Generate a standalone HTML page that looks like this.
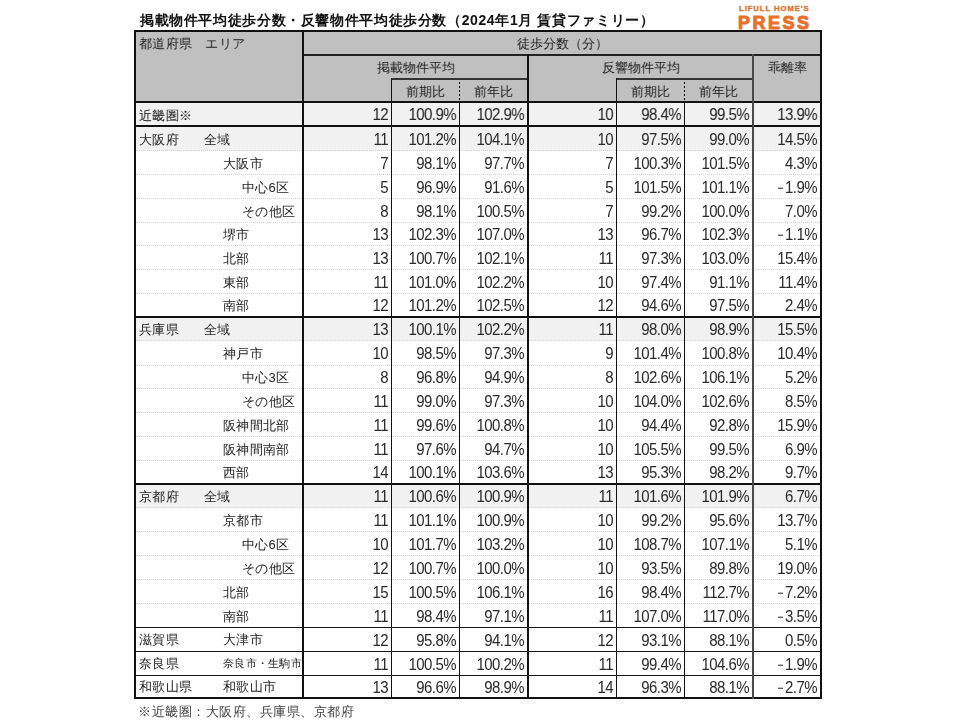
<!DOCTYPE html>
<html><head><meta charset="utf-8"><style>
html,body{margin:0;padding:0;background:#fff;width:960px;height:720px;overflow:hidden;position:relative}
body{font-family:"Liberation Sans",sans-serif;color:#1a1a1a}
.a{position:absolute}
.ln{position:absolute;background:#111}
.dot{position:absolute;height:0;border-top:1px dotted #d4d4d4}
.t{position:absolute;white-space:nowrap;font-size:13px;letter-spacing:0.3px;line-height:24px;color:#222}
.n{position:absolute;white-space:nowrap;font-size:15px;line-height:24px;text-align:right;letter-spacing:-0.55px;color:#2a2a2a;transform:translateY(0.7px) scaleY(1.04)}
.h{position:absolute;white-space:nowrap;font-size:13px;line-height:22px;text-align:center;color:#262626}
</style></head><body>

<div class="a" style="left:140px;top:10px;font-size:14px;letter-spacing:0.62px;font-weight:bold;line-height:20px;white-space:nowrap;color:#111;filter:grayscale(1)">掲載物件平均徒歩分数・反響物件平均徒歩分数（2024年1月 賃貸ファミリー）</div>
<div class="a" style="left:739px;top:4px;font-size:7.75px;font-weight:bold;letter-spacing:0.9px;color:#e8702a;line-height:10px;white-space:nowrap;-webkit-text-stroke:0.35px #e8702a">LIFULL HOME'S</div>
<div class="a" style="left:738px;top:13px;font-size:18px;font-weight:bold;letter-spacing:2.5px;color:#e8702a;line-height:20px;white-space:nowrap;-webkit-text-stroke:1px #e8702a">PRESS</div>
<div class="a" style="left:0;top:0;width:960px;height:720px;filter:grayscale(1)">
<div class="a" style="left:134px;top:30px;width:688px;height:73px;background:#c0c0c0"></div>
<div class="a" style="left:134px;top:103px;width:688px;height:23px;background:#f1f1f1"></div>
<div class="a" style="left:134px;top:127px;width:688px;height:24px;background:#f1f1f1"></div>
<div class="a" style="left:134px;top:318px;width:688px;height:23px;background:#f1f1f1"></div>
<div class="a" style="left:134px;top:485px;width:688px;height:23px;background:#f1f1f1"></div>
<div class="dot" style="left:136px;top:150px;width:684px"></div>
<div class="dot" style="left:136px;top:174px;width:684px"></div>
<div class="dot" style="left:136px;top:198px;width:684px"></div>
<div class="dot" style="left:136px;top:222px;width:684px"></div>
<div class="dot" style="left:136px;top:245px;width:684px"></div>
<div class="dot" style="left:136px;top:269px;width:684px"></div>
<div class="dot" style="left:136px;top:293px;width:684px"></div>
<div class="dot" style="left:136px;top:340px;width:684px"></div>
<div class="dot" style="left:136px;top:365px;width:684px"></div>
<div class="dot" style="left:136px;top:388px;width:684px"></div>
<div class="dot" style="left:136px;top:412px;width:684px"></div>
<div class="dot" style="left:136px;top:436px;width:684px"></div>
<div class="dot" style="left:136px;top:460px;width:684px"></div>
<div class="dot" style="left:136px;top:507px;width:684px"></div>
<div class="dot" style="left:136px;top:531px;width:684px"></div>
<div class="dot" style="left:136px;top:555px;width:684px"></div>
<div class="dot" style="left:136px;top:579px;width:684px"></div>
<div class="dot" style="left:136px;top:603px;width:684px"></div>
<div class="ln" style="left:134px;top:101px;width:688px;height:2px"></div>
<div class="ln" style="left:134px;top:125px;width:688px;height:2px"></div>
<div class="ln" style="left:134px;top:316px;width:688px;height:2px"></div>
<div class="ln" style="left:134px;top:483px;width:688px;height:2px"></div>
<div class="ln" style="left:134px;top:627px;width:688px;height:1px"></div>
<div class="ln" style="left:134px;top:651px;width:688px;height:1px"></div>
<div class="ln" style="left:134px;top:675px;width:688px;height:1px"></div>
<div class="ln" style="left:134px;top:697px;width:688px;height:2px"></div>
<div class="ln" style="left:134px;top:30px;width:688px;height:2px"></div>
<div class="ln" style="left:304px;top:54px;width:518px;height:2px;background:#222"></div>
<div class="ln" style="left:391px;top:78px;width:136px;height:2px;background:#333"></div>
<div class="ln" style="left:616px;top:78px;width:136px;height:2px;background:#333"></div>
<div class="ln" style="left:134px;top:30px;width:2px;height:669px"></div>
<div class="ln" style="left:302px;top:30px;width:2px;height:669px"></div>
<div class="ln" style="left:391px;top:101px;width:1px;height:598px"></div>
<div class="ln" style="left:459px;top:101px;width:1px;height:598px"></div>
<div class="ln" style="left:527px;top:54px;width:2px;height:645px"></div>
<div class="ln" style="left:616px;top:101px;width:1px;height:598px"></div>
<div class="ln" style="left:684px;top:101px;width:1px;height:598px"></div>
<div class="ln" style="left:752px;top:54px;width:2px;height:645px;background:#4a4a4a"></div>
<div class="ln" style="left:820px;top:30px;width:2px;height:669px"></div>
<div class="ln" style="left:391px;top:78px;width:1px;height:24px"></div>
<div class="ln" style="left:616px;top:78px;width:1px;height:24px"></div>
<div class="a" style="left:459px;top:82px;width:1px;height:18px;background:repeating-linear-gradient(#000 0 2px,transparent 2px 4px)"></div>
<div class="a" style="left:684px;top:82px;width:1px;height:18px;background:repeating-linear-gradient(#000 0 2px,transparent 2px 4px)"></div>
<div class="t" style="left:139px;top:33px;line-height:22px;color:#262626">都道府県　エリア</div>
<div class="h" style="left:304px;top:33px;width:516px;line-height:22px;">徒歩分数（分）</div>
<div class="h" style="left:304px;top:57px;width:223px;line-height:22px;">掲載物件平均</div>
<div class="h" style="left:529px;top:57px;width:223px;line-height:22px;">反響物件平均</div>
<div class="h" style="left:754px;top:57px;width:66px;line-height:22px;">乖離率</div>
<div class="h" style="left:392px;top:81px;width:67px;line-height:22px;">前期比</div>
<div class="h" style="left:460px;top:81px;width:67px;line-height:22px;">前年比</div>
<div class="h" style="left:617px;top:81px;width:67px;line-height:22px;">前期比</div>
<div class="h" style="left:685px;top:81px;width:67px;line-height:22px;">前年比</div>
<div class="t" style="left:139px;top:105px;line-height:22px;">近畿圏※</div>
<div class="n" style="left:308px;width:80px;top:103px;line-height:22px">12</div>
<div class="n" style="left:376px;width:80px;top:103px;line-height:22px">100.9%</div>
<div class="n" style="left:444px;width:80px;top:103px;line-height:22px">102.9%</div>
<div class="n" style="left:533px;width:80px;top:103px;line-height:22px">10</div>
<div class="n" style="left:601px;width:80px;top:103px;line-height:22px">98.4%</div>
<div class="n" style="left:669px;width:80px;top:103px;line-height:22px">99.5%</div>
<div class="n" style="left:737px;width:80px;top:103px;line-height:22px">13.9%</div>
<div class="t" style="left:139px;top:128px;line-height:23px;">大阪府</div>
<div class="t" style="left:204px;top:128px;line-height:23px;">全域</div>
<div class="n" style="left:308px;width:80px;top:127px;line-height:23px">11</div>
<div class="n" style="left:376px;width:80px;top:127px;line-height:23px">101.2%</div>
<div class="n" style="left:444px;width:80px;top:127px;line-height:23px">104.1%</div>
<div class="n" style="left:533px;width:80px;top:127px;line-height:23px">10</div>
<div class="n" style="left:601px;width:80px;top:127px;line-height:23px">97.5%</div>
<div class="n" style="left:669px;width:80px;top:127px;line-height:23px">99.0%</div>
<div class="n" style="left:737px;width:80px;top:127px;line-height:23px">14.5%</div>
<div class="t" style="left:223px;top:152px;line-height:23px;">大阪市</div>
<div class="n" style="left:308px;width:80px;top:151px;line-height:23px">7</div>
<div class="n" style="left:376px;width:80px;top:151px;line-height:23px">98.1%</div>
<div class="n" style="left:444px;width:80px;top:151px;line-height:23px">97.7%</div>
<div class="n" style="left:533px;width:80px;top:151px;line-height:23px">7</div>
<div class="n" style="left:601px;width:80px;top:151px;line-height:23px">100.3%</div>
<div class="n" style="left:669px;width:80px;top:151px;line-height:23px">101.5%</div>
<div class="n" style="left:737px;width:80px;top:151px;line-height:23px">4.3%</div>
<div class="t" style="left:242px;top:176px;line-height:23px;">中心6区</div>
<div class="n" style="left:308px;width:80px;top:175px;line-height:23px">5</div>
<div class="n" style="left:376px;width:80px;top:175px;line-height:23px">96.9%</div>
<div class="n" style="left:444px;width:80px;top:175px;line-height:23px">91.6%</div>
<div class="n" style="left:533px;width:80px;top:175px;line-height:23px">5</div>
<div class="n" style="left:601px;width:80px;top:175px;line-height:23px">101.5%</div>
<div class="n" style="left:669px;width:80px;top:175px;line-height:23px">101.1%</div>
<div class="n" style="left:737px;width:80px;top:175px;line-height:23px"><span style="display:inline-block;width:5px;height:1.4px;background:#2a2a2a;vertical-align:4px;margin-right:2.2px"></span>1.9%</div>
<div class="t" style="left:242px;top:200px;line-height:23px;">その他区</div>
<div class="n" style="left:308px;width:80px;top:199px;line-height:23px">8</div>
<div class="n" style="left:376px;width:80px;top:199px;line-height:23px">98.1%</div>
<div class="n" style="left:444px;width:80px;top:199px;line-height:23px">100.5%</div>
<div class="n" style="left:533px;width:80px;top:199px;line-height:23px">7</div>
<div class="n" style="left:601px;width:80px;top:199px;line-height:23px">99.2%</div>
<div class="n" style="left:669px;width:80px;top:199px;line-height:23px">100.0%</div>
<div class="n" style="left:737px;width:80px;top:199px;line-height:23px">7.0%</div>
<div class="t" style="left:223px;top:224px;line-height:22px;">堺市</div>
<div class="n" style="left:308px;width:80px;top:223px;line-height:22px">13</div>
<div class="n" style="left:376px;width:80px;top:223px;line-height:22px">102.3%</div>
<div class="n" style="left:444px;width:80px;top:223px;line-height:22px">107.0%</div>
<div class="n" style="left:533px;width:80px;top:223px;line-height:22px">13</div>
<div class="n" style="left:601px;width:80px;top:223px;line-height:22px">96.7%</div>
<div class="n" style="left:669px;width:80px;top:223px;line-height:22px">102.3%</div>
<div class="n" style="left:737px;width:80px;top:223px;line-height:22px"><span style="display:inline-block;width:5px;height:1.4px;background:#2a2a2a;vertical-align:4px;margin-right:2.2px"></span>1.1%</div>
<div class="t" style="left:223px;top:247px;line-height:23px;">北部</div>
<div class="n" style="left:308px;width:80px;top:246px;line-height:23px">13</div>
<div class="n" style="left:376px;width:80px;top:246px;line-height:23px">100.7%</div>
<div class="n" style="left:444px;width:80px;top:246px;line-height:23px">102.1%</div>
<div class="n" style="left:533px;width:80px;top:246px;line-height:23px">11</div>
<div class="n" style="left:601px;width:80px;top:246px;line-height:23px">97.3%</div>
<div class="n" style="left:669px;width:80px;top:246px;line-height:23px">103.0%</div>
<div class="n" style="left:737px;width:80px;top:246px;line-height:23px">15.4%</div>
<div class="t" style="left:223px;top:271px;line-height:23px;">東部</div>
<div class="n" style="left:308px;width:80px;top:270px;line-height:23px">11</div>
<div class="n" style="left:376px;width:80px;top:270px;line-height:23px">101.0%</div>
<div class="n" style="left:444px;width:80px;top:270px;line-height:23px">102.2%</div>
<div class="n" style="left:533px;width:80px;top:270px;line-height:23px">10</div>
<div class="n" style="left:601px;width:80px;top:270px;line-height:23px">97.4%</div>
<div class="n" style="left:669px;width:80px;top:270px;line-height:23px">91.1%</div>
<div class="n" style="left:737px;width:80px;top:270px;line-height:23px">11.4%</div>
<div class="t" style="left:223px;top:295px;line-height:22px;">南部</div>
<div class="n" style="left:308px;width:80px;top:294px;line-height:22px">12</div>
<div class="n" style="left:376px;width:80px;top:294px;line-height:22px">101.2%</div>
<div class="n" style="left:444px;width:80px;top:294px;line-height:22px">102.5%</div>
<div class="n" style="left:533px;width:80px;top:294px;line-height:22px">12</div>
<div class="n" style="left:601px;width:80px;top:294px;line-height:22px">94.6%</div>
<div class="n" style="left:669px;width:80px;top:294px;line-height:22px">97.5%</div>
<div class="n" style="left:737px;width:80px;top:294px;line-height:22px">2.4%</div>
<div class="t" style="left:139px;top:319px;line-height:22px;">兵庫県</div>
<div class="t" style="left:204px;top:319px;line-height:22px;">全域</div>
<div class="n" style="left:308px;width:80px;top:318px;line-height:22px">13</div>
<div class="n" style="left:376px;width:80px;top:318px;line-height:22px">100.1%</div>
<div class="n" style="left:444px;width:80px;top:318px;line-height:22px">102.2%</div>
<div class="n" style="left:533px;width:80px;top:318px;line-height:22px">11</div>
<div class="n" style="left:601px;width:80px;top:318px;line-height:22px">98.0%</div>
<div class="n" style="left:669px;width:80px;top:318px;line-height:22px">98.9%</div>
<div class="n" style="left:737px;width:80px;top:318px;line-height:22px">15.5%</div>
<div class="t" style="left:223px;top:342px;line-height:24px;">神戸市</div>
<div class="n" style="left:308px;width:80px;top:341px;line-height:24px">10</div>
<div class="n" style="left:376px;width:80px;top:341px;line-height:24px">98.5%</div>
<div class="n" style="left:444px;width:80px;top:341px;line-height:24px">97.3%</div>
<div class="n" style="left:533px;width:80px;top:341px;line-height:24px">9</div>
<div class="n" style="left:601px;width:80px;top:341px;line-height:24px">101.4%</div>
<div class="n" style="left:669px;width:80px;top:341px;line-height:24px">100.8%</div>
<div class="n" style="left:737px;width:80px;top:341px;line-height:24px">10.4%</div>
<div class="t" style="left:242px;top:367px;line-height:22px;">中心3区</div>
<div class="n" style="left:308px;width:80px;top:366px;line-height:22px">8</div>
<div class="n" style="left:376px;width:80px;top:366px;line-height:22px">96.8%</div>
<div class="n" style="left:444px;width:80px;top:366px;line-height:22px">94.9%</div>
<div class="n" style="left:533px;width:80px;top:366px;line-height:22px">8</div>
<div class="n" style="left:601px;width:80px;top:366px;line-height:22px">102.6%</div>
<div class="n" style="left:669px;width:80px;top:366px;line-height:22px">106.1%</div>
<div class="n" style="left:737px;width:80px;top:366px;line-height:22px">5.2%</div>
<div class="t" style="left:242px;top:390px;line-height:23px;">その他区</div>
<div class="n" style="left:308px;width:80px;top:389px;line-height:23px">11</div>
<div class="n" style="left:376px;width:80px;top:389px;line-height:23px">99.0%</div>
<div class="n" style="left:444px;width:80px;top:389px;line-height:23px">97.3%</div>
<div class="n" style="left:533px;width:80px;top:389px;line-height:23px">10</div>
<div class="n" style="left:601px;width:80px;top:389px;line-height:23px">104.0%</div>
<div class="n" style="left:669px;width:80px;top:389px;line-height:23px">102.6%</div>
<div class="n" style="left:737px;width:80px;top:389px;line-height:23px">8.5%</div>
<div class="t" style="left:223px;top:414px;line-height:23px;">阪神間北部</div>
<div class="n" style="left:308px;width:80px;top:413px;line-height:23px">11</div>
<div class="n" style="left:376px;width:80px;top:413px;line-height:23px">99.6%</div>
<div class="n" style="left:444px;width:80px;top:413px;line-height:23px">100.8%</div>
<div class="n" style="left:533px;width:80px;top:413px;line-height:23px">10</div>
<div class="n" style="left:601px;width:80px;top:413px;line-height:23px">94.4%</div>
<div class="n" style="left:669px;width:80px;top:413px;line-height:23px">92.8%</div>
<div class="n" style="left:737px;width:80px;top:413px;line-height:23px">15.9%</div>
<div class="t" style="left:223px;top:438px;line-height:23px;">阪神間南部</div>
<div class="n" style="left:308px;width:80px;top:437px;line-height:23px">11</div>
<div class="n" style="left:376px;width:80px;top:437px;line-height:23px">97.6%</div>
<div class="n" style="left:444px;width:80px;top:437px;line-height:23px">94.7%</div>
<div class="n" style="left:533px;width:80px;top:437px;line-height:23px">10</div>
<div class="n" style="left:601px;width:80px;top:437px;line-height:23px">105.5%</div>
<div class="n" style="left:669px;width:80px;top:437px;line-height:23px">99.5%</div>
<div class="n" style="left:737px;width:80px;top:437px;line-height:23px">6.9%</div>
<div class="t" style="left:223px;top:462px;line-height:22px;">西部</div>
<div class="n" style="left:308px;width:80px;top:461px;line-height:22px">14</div>
<div class="n" style="left:376px;width:80px;top:461px;line-height:22px">100.1%</div>
<div class="n" style="left:444px;width:80px;top:461px;line-height:22px">103.6%</div>
<div class="n" style="left:533px;width:80px;top:461px;line-height:22px">13</div>
<div class="n" style="left:601px;width:80px;top:461px;line-height:22px">95.3%</div>
<div class="n" style="left:669px;width:80px;top:461px;line-height:22px">98.2%</div>
<div class="n" style="left:737px;width:80px;top:461px;line-height:22px">9.7%</div>
<div class="t" style="left:139px;top:486px;line-height:22px;">京都府</div>
<div class="t" style="left:204px;top:486px;line-height:22px;">全域</div>
<div class="n" style="left:308px;width:80px;top:485px;line-height:22px">11</div>
<div class="n" style="left:376px;width:80px;top:485px;line-height:22px">100.6%</div>
<div class="n" style="left:444px;width:80px;top:485px;line-height:22px">100.9%</div>
<div class="n" style="left:533px;width:80px;top:485px;line-height:22px">11</div>
<div class="n" style="left:601px;width:80px;top:485px;line-height:22px">101.6%</div>
<div class="n" style="left:669px;width:80px;top:485px;line-height:22px">101.9%</div>
<div class="n" style="left:737px;width:80px;top:485px;line-height:22px">6.7%</div>
<div class="t" style="left:223px;top:509px;line-height:23px;">京都市</div>
<div class="n" style="left:308px;width:80px;top:508px;line-height:23px">11</div>
<div class="n" style="left:376px;width:80px;top:508px;line-height:23px">101.1%</div>
<div class="n" style="left:444px;width:80px;top:508px;line-height:23px">100.9%</div>
<div class="n" style="left:533px;width:80px;top:508px;line-height:23px">10</div>
<div class="n" style="left:601px;width:80px;top:508px;line-height:23px">99.2%</div>
<div class="n" style="left:669px;width:80px;top:508px;line-height:23px">95.6%</div>
<div class="n" style="left:737px;width:80px;top:508px;line-height:23px">13.7%</div>
<div class="t" style="left:242px;top:533px;line-height:23px;">中心6区</div>
<div class="n" style="left:308px;width:80px;top:532px;line-height:23px">10</div>
<div class="n" style="left:376px;width:80px;top:532px;line-height:23px">101.7%</div>
<div class="n" style="left:444px;width:80px;top:532px;line-height:23px">103.2%</div>
<div class="n" style="left:533px;width:80px;top:532px;line-height:23px">10</div>
<div class="n" style="left:601px;width:80px;top:532px;line-height:23px">108.7%</div>
<div class="n" style="left:669px;width:80px;top:532px;line-height:23px">107.1%</div>
<div class="n" style="left:737px;width:80px;top:532px;line-height:23px">5.1%</div>
<div class="t" style="left:242px;top:557px;line-height:23px;">その他区</div>
<div class="n" style="left:308px;width:80px;top:556px;line-height:23px">12</div>
<div class="n" style="left:376px;width:80px;top:556px;line-height:23px">100.7%</div>
<div class="n" style="left:444px;width:80px;top:556px;line-height:23px">100.0%</div>
<div class="n" style="left:533px;width:80px;top:556px;line-height:23px">10</div>
<div class="n" style="left:601px;width:80px;top:556px;line-height:23px">93.5%</div>
<div class="n" style="left:669px;width:80px;top:556px;line-height:23px">89.8%</div>
<div class="n" style="left:737px;width:80px;top:556px;line-height:23px">19.0%</div>
<div class="t" style="left:223px;top:581px;line-height:23px;">北部</div>
<div class="n" style="left:308px;width:80px;top:580px;line-height:23px">15</div>
<div class="n" style="left:376px;width:80px;top:580px;line-height:23px">100.5%</div>
<div class="n" style="left:444px;width:80px;top:580px;line-height:23px">106.1%</div>
<div class="n" style="left:533px;width:80px;top:580px;line-height:23px">16</div>
<div class="n" style="left:601px;width:80px;top:580px;line-height:23px">98.4%</div>
<div class="n" style="left:669px;width:80px;top:580px;line-height:23px">112.7%</div>
<div class="n" style="left:737px;width:80px;top:580px;line-height:23px"><span style="display:inline-block;width:5px;height:1.4px;background:#2a2a2a;vertical-align:4px;margin-right:2.2px"></span>7.2%</div>
<div class="t" style="left:223px;top:605px;line-height:23px;">南部</div>
<div class="n" style="left:308px;width:80px;top:604px;line-height:23px">11</div>
<div class="n" style="left:376px;width:80px;top:604px;line-height:23px">98.4%</div>
<div class="n" style="left:444px;width:80px;top:604px;line-height:23px">97.1%</div>
<div class="n" style="left:533px;width:80px;top:604px;line-height:23px">11</div>
<div class="n" style="left:601px;width:80px;top:604px;line-height:23px">107.0%</div>
<div class="n" style="left:669px;width:80px;top:604px;line-height:23px">117.0%</div>
<div class="n" style="left:737px;width:80px;top:604px;line-height:23px"><span style="display:inline-block;width:5px;height:1.4px;background:#2a2a2a;vertical-align:4px;margin-right:2.2px"></span>3.5%</div>
<div class="t" style="left:139px;top:628px;line-height:23px;">滋賀県</div>
<div class="t" style="left:223px;top:628px;line-height:23px;">大津市</div>
<div class="n" style="left:308px;width:80px;top:628px;line-height:23px">12</div>
<div class="n" style="left:376px;width:80px;top:628px;line-height:23px">95.8%</div>
<div class="n" style="left:444px;width:80px;top:628px;line-height:23px">94.1%</div>
<div class="n" style="left:533px;width:80px;top:628px;line-height:23px">12</div>
<div class="n" style="left:601px;width:80px;top:628px;line-height:23px">93.1%</div>
<div class="n" style="left:669px;width:80px;top:628px;line-height:23px">88.1%</div>
<div class="n" style="left:737px;width:80px;top:628px;line-height:23px">0.5%</div>
<div class="t" style="left:139px;top:652px;line-height:23px;">奈良県</div>
<div class="t" style="left:223px;top:652px;line-height:23px;font-size:11.3px;">奈良市・生駒市</div>
<div class="n" style="left:308px;width:80px;top:652px;line-height:23px">11</div>
<div class="n" style="left:376px;width:80px;top:652px;line-height:23px">100.5%</div>
<div class="n" style="left:444px;width:80px;top:652px;line-height:23px">100.2%</div>
<div class="n" style="left:533px;width:80px;top:652px;line-height:23px">11</div>
<div class="n" style="left:601px;width:80px;top:652px;line-height:23px">99.4%</div>
<div class="n" style="left:669px;width:80px;top:652px;line-height:23px">104.6%</div>
<div class="n" style="left:737px;width:80px;top:652px;line-height:23px"><span style="display:inline-block;width:5px;height:1.4px;background:#2a2a2a;vertical-align:4px;margin-right:2.2px"></span>1.9%</div>
<div class="t" style="left:139px;top:676px;line-height:21px;">和歌山県</div>
<div class="t" style="left:223px;top:676px;line-height:21px;">和歌山市</div>
<div class="n" style="left:308px;width:80px;top:676px;line-height:21px">13</div>
<div class="n" style="left:376px;width:80px;top:676px;line-height:21px">96.6%</div>
<div class="n" style="left:444px;width:80px;top:676px;line-height:21px">98.9%</div>
<div class="n" style="left:533px;width:80px;top:676px;line-height:21px">14</div>
<div class="n" style="left:601px;width:80px;top:676px;line-height:21px">96.3%</div>
<div class="n" style="left:669px;width:80px;top:676px;line-height:21px">88.1%</div>
<div class="n" style="left:737px;width:80px;top:676px;line-height:21px"><span style="display:inline-block;width:5px;height:1.4px;background:#2a2a2a;vertical-align:4px;margin-right:2.2px"></span>2.7%</div>
<div class="t" style="left:138px;top:700.5px;line-height:22px;font-size:13px;letter-spacing:0.5px;color:#444">※近畿圏：大阪府、兵庫県、京都府</div>
</div>
</body></html>
